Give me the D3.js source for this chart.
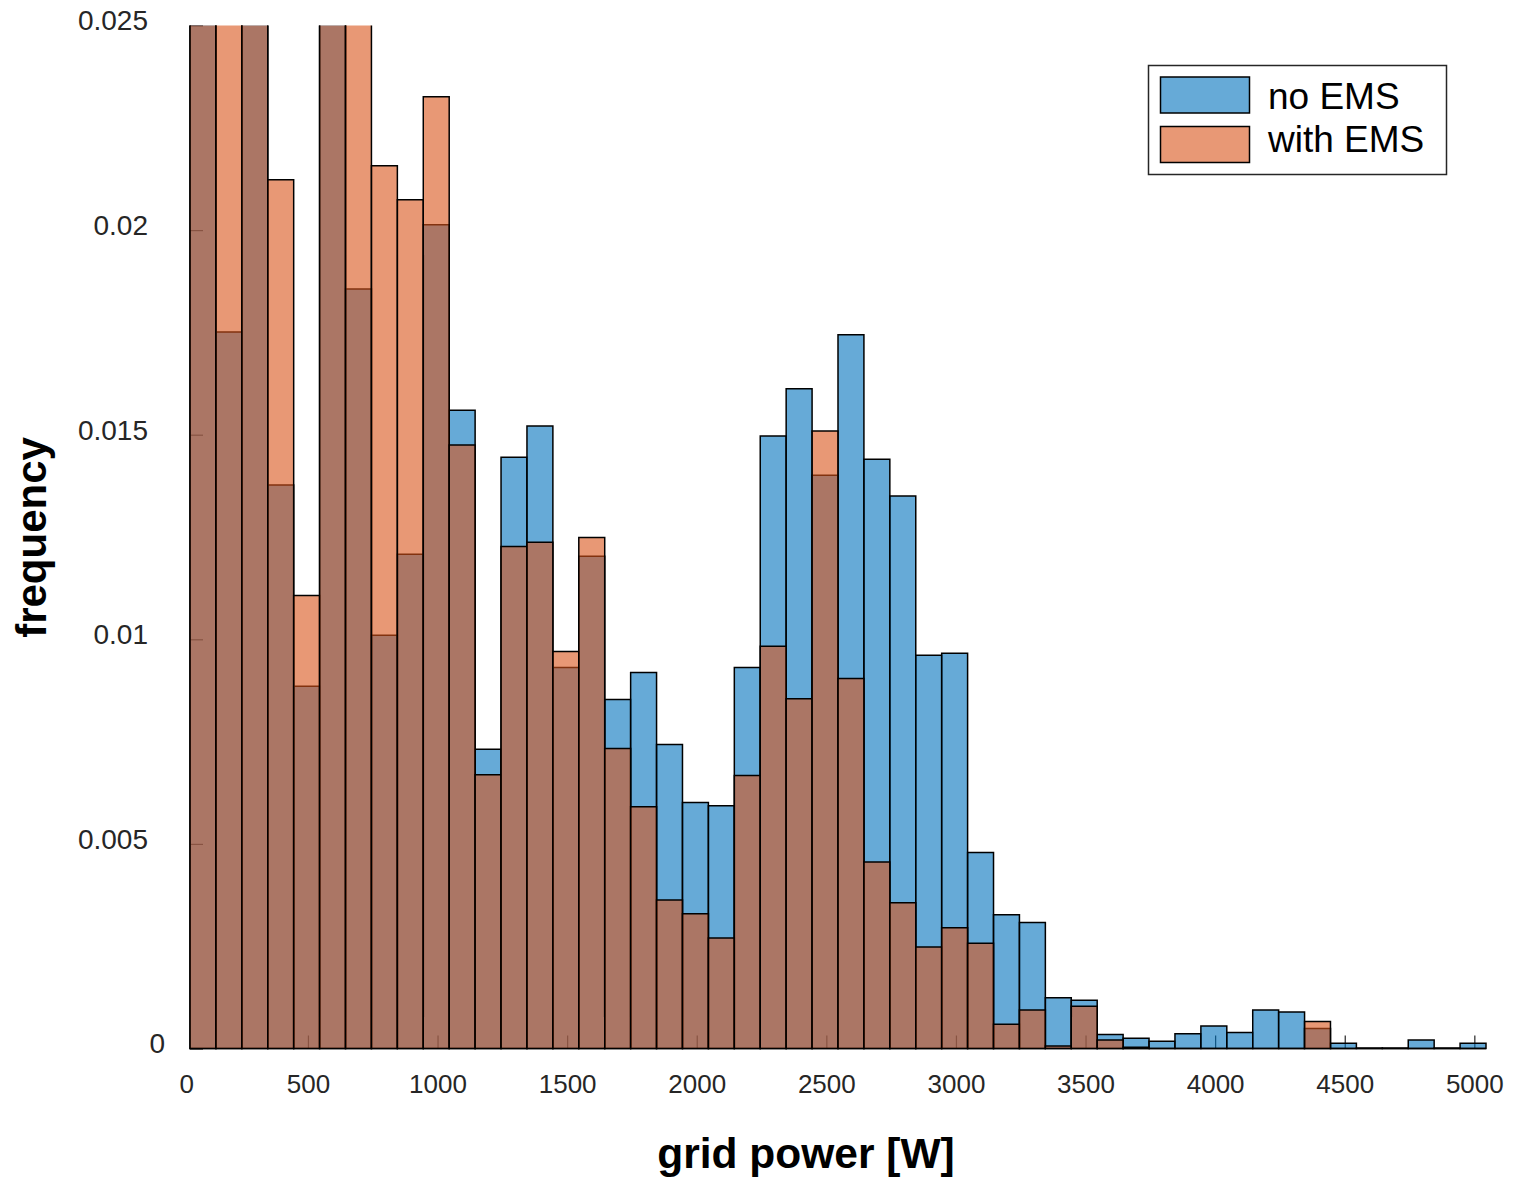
<!DOCTYPE html>
<html lang="en">
<head>
	<meta charset="UTF-8"/>
	<title>grid power histogram</title>
	<script src="https://d3js.org/d3.v7.min.js"></script>
	<style>
		body { margin: 0; background: #fff; }
		text { font-family: "Liberation Sans", Arial, Helvetica, sans-serif; }
	</style>
</head>
<body>
	<script>
		var w = 1513;
		var h = 1179;

		// histogram bins (W)
		var binStart = 45;
		var binWidth = 100;

		var noEMS = [
			0.0330, 0.01751, 0.0300, 0.01377, 0.00885, 0.0290, 0.01856, 0.01010, 0.01208, 0.02013,
			0.01560, 0.00731, 0.01445, 0.01521, 0.00931, 0.01203, 0.00853, 0.00919, 0.00743, 0.00601,
			0.00593, 0.00931, 0.01497, 0.01612, 0.01401, 0.01744, 0.01440, 0.01350, 0.00961, 0.00966,
			0.00479, 0.00327, 0.00308, 0.00124, 0.00118, 0.00034, 0.00025, 0.00018, 0.00036, 0.00055,
			0.00039, 0.00094, 0.00089, 0.00049, 0.00013, 0.00001, 0.00001, 0.00021, 0.00001, 0.00013
		];
		var withEMS = [
			0.0310, 0.0280, 0.0300, 0.02123, 0.01107, 0.0295, 0.0270, 0.02157, 0.02074, 0.02326,
			0.01475, 0.00669, 0.01227, 0.01237, 0.00970, 0.01249, 0.00733, 0.00591, 0.00363, 0.00329,
			0.00270, 0.00667, 0.00983, 0.00855, 0.01509, 0.00904, 0.00456, 0.00356, 0.00248, 0.00295,
			0.00257, 0.00059, 0.00094, 0.00006, 0.00103, 0.00021, 0.00003, 0, 0, 0,
			0, 0, 0, 0.00066, 0, 0, 0, 0, 0, 0
		];

		var xTicks = [0, 500, 1000, 1500, 2000, 2500, 3000, 3500, 4000, 4500, 5000];
		var yTicks = [0, 0.005, 0.01, 0.015, 0.02, 0.025];
		var seriesNames = ["no EMS", "with EMS"];
		var seriesColors = ["rgb(0,114,189)", "rgb(217,83,25)"];

		var x0 = 190, x1 = 1486;
		var y0 = 1048.5, y1 = 25.5;

		var xScale = d3.scaleLinear()
			.domain([binStart, binStart + binWidth * noEMS.length])
			.range([x0, x1]);

		var yScale = d3.scaleLinear()
			.domain([0, 0.025])
			.range([y0, y1]);

		var svg = d3.select("body")
			.append("svg")
			.attr("width", w)
			.attr("height", h);

		svg.append("clipPath")
			.attr("id", "plotclip")
			.append("rect")
			.attr("x", 150)
			.attr("y", y1)
			.attr("width", 1360)
			.attr("height", y0 - y1 + 20);

		// axes (ticks point inward, drawn under the bars)
		var yAxis = svg.append("g")
			.attr("transform", "translate(" + x0 + ",0)")
			.call(d3.axisLeft(yScale)
				.tickValues(yTicks)
				.tickFormat(function(d) { return String(d); })
				.tickSize(-13)
				.tickPadding(42));
		yAxis.select(".domain").remove();
		yAxis.selectAll("line").attr("stroke", "#262626").attr("stroke-width", 1.2);
		yAxis.selectAll("text")
			.attr("fill", "#262626")
			.attr("dy", "0.16em")
			.attr("dx", function(d) { return d === 0 ? 17 : 0; })
			.style("font-size", "28px");

		var xAxis = svg.append("g")
			.attr("transform", "translate(0," + y0 + ")")
			.call(d3.axisBottom(xScale)
				.tickValues(xTicks)
				.tickFormat(function(d) { return String(d); })
				.tickSize(-13)
				.tickPadding(26.5));
		xAxis.select(".domain").remove();
		xAxis.selectAll("line")
			.attr("stroke", "#262626")
			.attr("stroke-width", 1.2)
			.attr("display", function(d) { return xScale(d) < x0 ? "none" : null; });
		xAxis.selectAll("text")
			.attr("fill", "#262626")
			.attr("dx", function(d) { return d === 0 ? 8 : 0; })
			.style("font-size", "26px");

		function barPath(v, i) {
			var a = xScale(binStart + i * binWidth);
			var b = xScale(binStart + (i + 1) * binWidth);
			var t = yScale(v);
			return "M" + a + "," + y0 + "V" + t + "H" + b + "V" + y0 + "Z";
		}

		var plot = svg.append("g").attr("clip-path", "url(#plotclip)");

		[noEMS, withEMS].forEach(function(series, s) {
			plot.append("g")
				.selectAll("path")
				.data(series)
				.enter()
				.append("path")
				.attr("d", barPath)
				.attr("fill", seriesColors[s])
				.attr("fill-opacity", 0.6)
				.attr("stroke", "#000")
				.attr("stroke-width", 1.5);
		});

		// axis titles
		svg.append("text")
			.attr("x", 806)
			.attr("y", 1168)
			.attr("text-anchor", "middle")
			.style("font-size", "42.5px")
			.style("font-weight", "bold")
			.text("grid power [W]");

		svg.append("text")
			.attr("transform", "translate(46,537.5) rotate(-90)")
			.attr("text-anchor", "middle")
			.style("font-size", "42px")
			.style("font-weight", "bold")
			.text("frequency");

		// legend
		var legend = svg.append("g");
		legend.append("rect")
			.attr("x", 1148.5)
			.attr("y", 65.5)
			.attr("width", 298)
			.attr("height", 109)
			.attr("fill", "#fff")
			.attr("stroke", "#262626")
			.attr("stroke-width", 1.5);

		seriesNames.forEach(function(name, i) {
			legend.append("rect")
				.attr("x", 1160.5)
				.attr("y", 77 + i * 49.5)
				.attr("width", 89)
				.attr("height", 36)
				.attr("fill", seriesColors[i])
				.attr("fill-opacity", 0.6)
				.attr("stroke", "#000")
				.attr("stroke-width", 1.5);
			legend.append("text")
				.attr("x", 1268)
				.attr("y", 108.5 + i * 43.5)
				.style("font-size", "37px")
				.attr("fill", "#000")
				.text(name);
		});
	</script>
</body>
</html>
